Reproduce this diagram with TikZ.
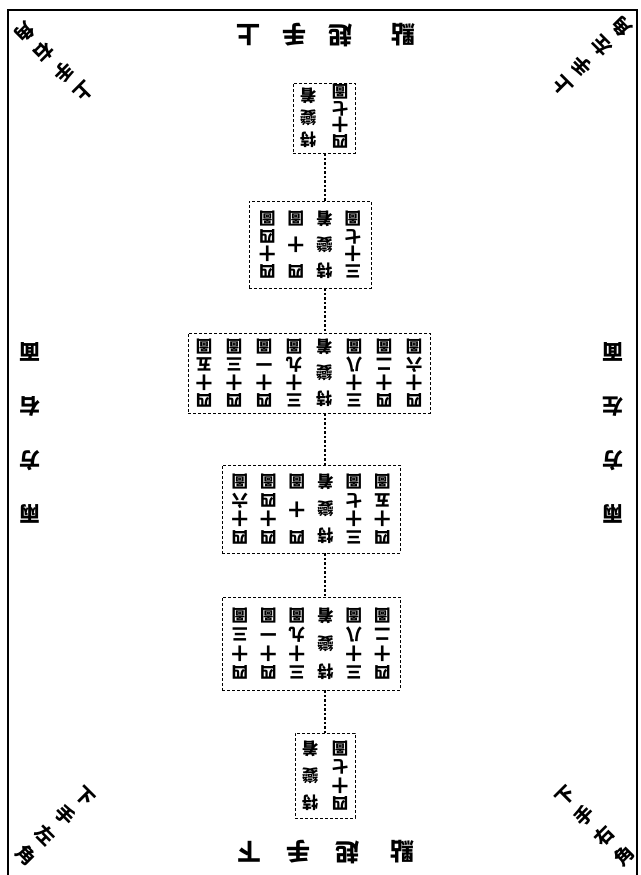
\documentclass[tikz,border=0pt]{standalone}
\usepackage{fontspec}
\usepackage{graphicx}
\usetikzlibrary{positioning}
\newfontfamily\zh{Noto Sans CJK TC}

\newlength{\colh}
\newlength{\colsep}
% one vertical column of characters, spread over \colh
\def\zhstack#1#2{#1\ifx#2\relax\else\par\vfill\expandafter\zhstack\expandafter#2\fi}
\newcommand{\zhcol}[1]{\parbox[c][\colh][s]{16.5pt}{\centering\zhstack#1\relax}}
\newcommand{\ks}{\hspace{\colsep}}
\newcommand{\tucols}[3]{\setlength{\colh}{#1}\setlength{\colsep}{#2}%
  \rotatebox{180}{\zh\bfseries\fontsize{16.5}{16.5}\selectfont #3}}

\begin{document}
\begin{tikzpicture}[x=1pt, y=-1pt,
  zbox/.style={draw, dash pattern=on 3pt off 2pt, line width=0.9pt, inner sep=0pt},
  link/.style={draw, dash pattern=on 2.5pt off 2pt, line width=1.2pt},
  frame/.style={draw, line width=1.4pt},
  ztitle/.style={font=\zh\bfseries\fontsize{24}{24}\selectfont, inner sep=0pt, rotate=180},
  zcorner/.style={font=\zh\bfseries\fontsize{19}{28}\selectfont, align=center, inner sep=0pt},
  zside/.style={font=\zh\bfseries\fontsize{21}{54}\selectfont, align=center, inner sep=0pt, rotate=180}
]
  \useasboundingbox (0,0) rectangle (640,875);
  \draw[frame] (8,875) -- (8,10) -- (637,10) -- (637,875);

  % titles, upper and lower
  \foreach \c/\x [count=\i] in {上/248, 手/294, 起/340, 點/403}
    \node[ztitle] (top\i) at (\x,35) {\c};
  \foreach \c/\x [count=\i] in {下/249, 手/298, 起/347, 點/402}
    \node[ztitle] (bot\i) at (\x,852) {\c};

  % corners
  \node[zcorner, rotate=-135] (cornTL) at (54,62) {上\\手\\右\\角};
  \node[zcorner, rotate=135] (cornTR) at (592,56) {上\\手\\左\\角};
  \node[zcorner, rotate=-45] (cornBL) at (55,826) {下\\手\\左\\角};
  \node[zcorner, rotate=45] (cornBR) at (595,826) {下\\手\\右\\角};

  % sides
  \node[zside] (sideL) at (30,433) {兩\\方\\右\\面};
  \node[zside] (sideR) at (613,433) {兩\\方\\左\\面};

  % figure boxes
  \node[zbox, minimum width=62pt, minimum height=70pt] (b1) at (324,118)
    {\tucols{58pt}{15.5pt}{\zhcol{四十七圖}\ks\zhcol{特變着}}};
  \node[zbox, minimum width=122pt, minimum height=87pt] (b2) at (310,244.5)
    {\tucols{66pt}{12pt}{\zhcol{三十七圖}\ks\zhcol{特變着}\ks\zhcol{四十圖}\ks\zhcol{四十四圖}}};
  \node[zbox, minimum width=242pt, minimum height=80pt] (b3) at (309,373)
    {\tucols{66pt}{13.5pt}{\zhcol{四十六圖}\ks\zhcol{四十二圖}\ks\zhcol{三十八圖}\ks\zhcol{特變着}\ks
      \zhcol{三十九圖}\ks\zhcol{四十一圖}\ks\zhcol{四十三圖}\ks\zhcol{四十五圖}}};
  \node[zbox, minimum width=178pt, minimum height=88pt] (b4) at (311,509)
    {\tucols{68pt}{12pt}{\zhcol{四十五圖}\ks\zhcol{三十七圖}\ks\zhcol{特變着}\ks
      \zhcol{四十圖}\ks\zhcol{四十四圖}\ks\zhcol{四十六圖}}};
  \node[zbox, minimum width=178pt, minimum height=93pt] (b5) at (311,643.5)
    {\tucols{70pt}{12pt}{\zhcol{四十二圖}\ks\zhcol{三十八圖}\ks\zhcol{特變着}\ks
      \zhcol{三十九圖}\ks\zhcol{四十一圖}\ks\zhcol{四十三圖}}};
  \node[zbox, minimum width=60pt, minimum height=85pt] (b6) at (325,775.5)
    {\tucols{68pt}{13.5pt}{\zhcol{四十七圖}\ks\zhcol{特變着}}};

  % dotted spine
  \coordinate (spine) at (325,0);
  \draw[link] (b1.south -| spine) -- (b2.north -| spine);
  \draw[link] (b2.south -| spine) -- (b3.north -| spine);
  \draw[link] (b3.south -| spine) -- (b4.north -| spine);
  \draw[link] (b4.south -| spine) -- (b5.north -| spine);
  \draw[link] (b5.south -| spine) -- (b6.north -| spine);
\end{tikzpicture}
\end{document}
